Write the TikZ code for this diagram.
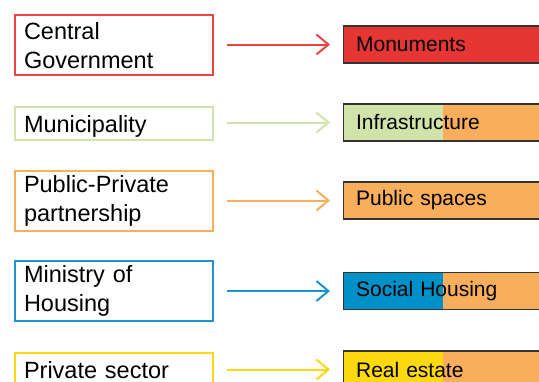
\documentclass[tikz,border=0pt]{standalone}
\usepackage{fontspec}
\setmainfont{Liberation Sans}
\usetikzlibrary{arrows.meta,backgrounds}
\definecolor{cred}{HTML}{E53633}
\definecolor{credb}{HTML}{E84545}
\definecolor{cgreen}{HTML}{D0E4AA}
\definecolor{corange}{HTML}{F8AE5B}
\definecolor{cblue}{HTML}{0090C8}
\definecolor{cblueb}{HTML}{1A95CF}
\definecolor{cyellow}{HTML}{FFD90F}
\definecolor{cborder}{HTML}{333333}
\tikzset{
  actor/.style={draw=#1, line width=2pt, fill=white, inner xsep=9pt, inner ysep=0pt,
    text width=180pt, align=left, anchor=west, minimum height=60pt,
    font=\fontsize{23.5}{29}\selectfont},
  oneline/.style={minimum height=33pt, text height=20pt, text depth=3pt},
  sector/.style={draw=cborder, line width=1.2pt, fill=#1, inner xsep=12.5pt, inner ysep=0pt,
    text width=192pt, align=left, anchor=west, minimum height=37pt,
    font=\fontsize{21}{25}\selectfont},
  split/.style={path picture={\fill[#1] (path picture bounding box.south west)
    rectangle ([xshift=99pt]path picture bounding box.north west);}},
  flow/.style={draw=#1, line width=2pt, -{Straight Barb[length=12pt,width=20pt,line width=2pt]},
    shorten <=13pt, shorten >=13pt},
  link/.style={draw=corange, line width=2pt}
}
\begin{document}
\begin{tikzpicture}[x=1pt,y=-1pt]
\clip (0,0) rectangle (539,381);
\fill[white] (0,0) rectangle (539,381);
% left actors
\node[actor=credb] (cg) at (14,45.3) {Central\\Government};
\node[actor=cgreen, oneline] (mu) at (14,123.5) {Municipality};
\node[actor=corange] (pp) at (14,201.3) {Public-Private\\partnership};
\node[actor=cblueb] (mh) at (14,291.3) {Ministry of\\Housing};
\node[actor=cyellow, oneline] (ps) at (14,369.5) {Private sector};
% right sectors
\node[sector=cred] (mo) at (343,44.5) {Monuments};
\node[sector=corange, split=cgreen] (in) at (343,122.5) {Infrastructure};
\node[sector=corange] (pu) at (343,200.5) {Public spaces};
\node[sector=corange, split=cblue] (so) at (343,291) {Social Housing};
\node[sector=corange, split=cyellow] (re) at (343,369.5) {Real estate};
% vertical link
\begin{scope}[on background layer]
\draw[link] ([xshift=148pt]in.south west) -- ([xshift=148pt]re.north west);
\end{scope}
% arrows
\draw[flow=credb] (cg.east |- mo.west) -- (mo.west);
\draw[flow=cgreen] (mu.east |- in.west) -- (in.west);
\draw[flow=corange] (pp.east |- pu.west) -- (pu.west);
\draw[flow=cblueb] (mh.east |- so.west) -- (so.west);
\draw[flow=cyellow] (ps.east |- re.west) -- (re.west);
\end{tikzpicture}
\end{document}
